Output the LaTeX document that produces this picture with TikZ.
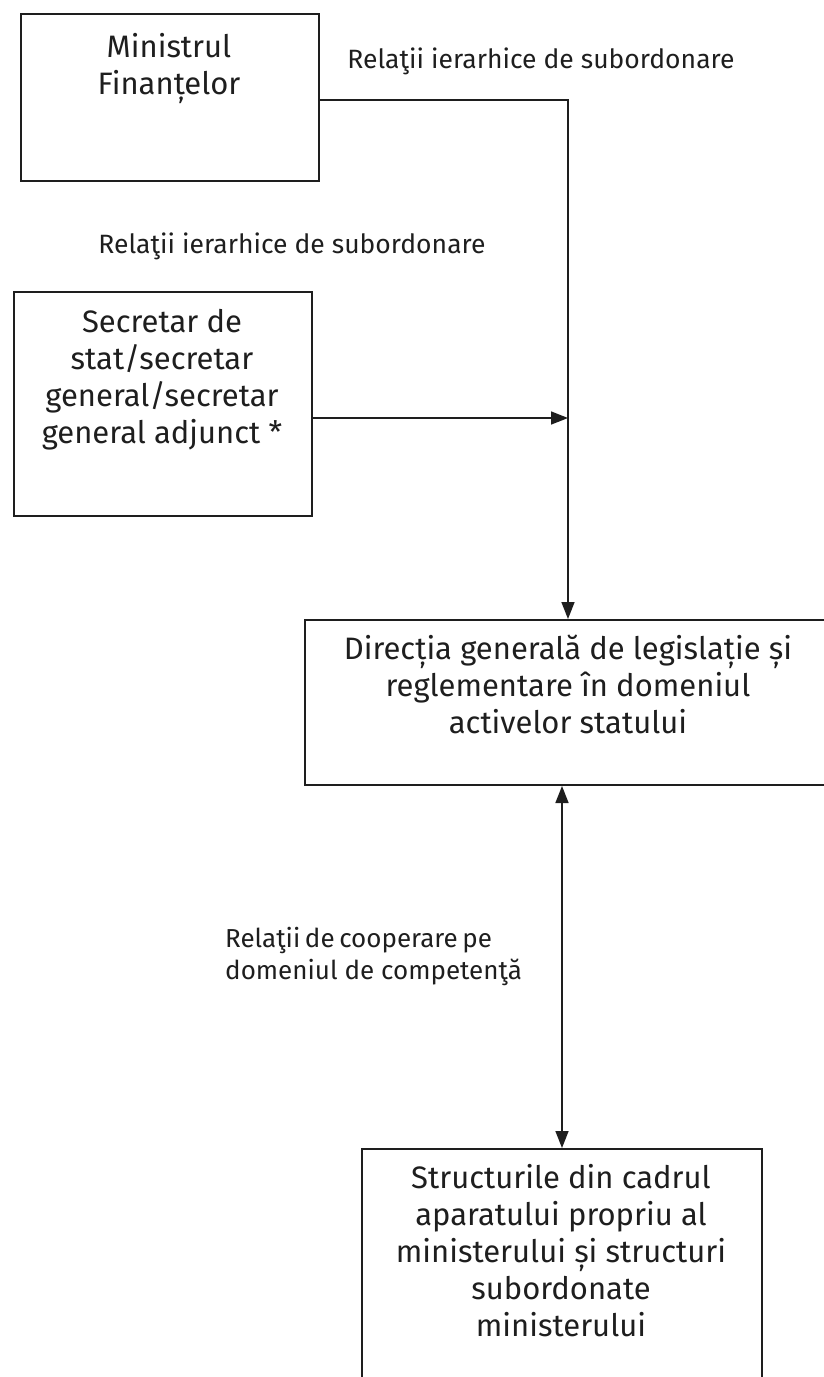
\documentclass[tikz,border=0pt]{standalone}
\usepackage{fontspec}
\setmainfont{Fira Sans}
\usetikzlibrary{arrows.meta}
\definecolor{ink}{HTML}{1E1E1E}
\newlength{\labw}
\begin{document}
\begin{tikzpicture}[x=1pt,y=-1pt,
  boxstyle/.style={draw=ink, line width=2pt, inner sep=0pt, anchor=north west},
  boxtext/.style={align=center, inner sep=0pt, anchor=north, font=\fontsize{31}{37}\selectfont, text=ink},
  labtext/.style={inner sep=0pt, font=\fontsize{26.5}{32}\selectfont, text=ink},
  conn/.style={draw=ink, line width=1.6pt},
  tip/.style={-{Triangle[length=17pt,width=13pt]}},
  tips/.style={{Triangle[length=17pt,width=13pt]}-{Triangle[length=17pt,width=13pt]}}
]
\clip (0,0) rectangle (824,1377);
\settowidth{\labw}{\fontsize{26}{32}\selectfont domeniul de competenţă}

% boxes
\node[boxstyle, minimum width=298pt, minimum height=167pt] (b1) at (20,13) {};
\node[boxtext] (t1) at (169,33) {Ministrul\\Finanțelor};

\node[boxstyle, minimum width=298pt, minimum height=224pt] (b2) at (13,291) {};
\node[boxtext] (t2) at (162,309) {Secretar de\\stat/secretar\\general/secretar\\general adjunct *};

\node[boxstyle, minimum width=530pt, minimum height=165pt] (b3) at (304,619) {};
\node[boxtext] (t3) at (568,635) {Direcția generală de legislație și\\reglementare în domeniul\\activelor statului};

\node[boxstyle, minimum width=400pt, minimum height=262pt] (b4) at (361,1148) {};
\node[boxtext] (t4) at (561,1164) {Structurile din cadrul\\aparatului propriu al\\ministerului și structuri\\subordonate\\ministerului};

% labels
\node[labtext, anchor=base] (l1) at (541,68) {Relaţii ierarhice de subordonare};
\node[labtext, anchor=base] (l2) at (292,253) {Relaţii ierarhice de subordonare};
\node[labtext, font=\fontsize{26}{32}\selectfont, align=left, anchor=north west] (l3) at (225,927) {\makebox[\labw][s]{Relaţii de cooperare pe}\\domeniul de competenţă};

% connectors
\coordinate (c1) at (568,100);
\coordinate (j2) at (568,418);
\coordinate (d1) at (562,0);
\draw[conn, tip] (b1.east |- c1) -- (c1) -- (c1 |- b3.north);
\draw[conn, tip] (b2.east |- j2) -- (j2);
\draw[conn, tips] (b3.south -| d1) -- (b4.north -| d1);
\end{tikzpicture}
\end{document}
